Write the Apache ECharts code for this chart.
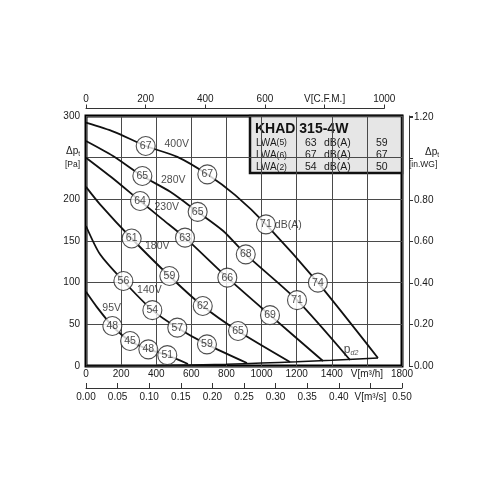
<!DOCTYPE html>
<html><head><meta charset="utf-8">
<script src="https://cdn.jsdelivr.net/npm/echarts@6/dist/echarts.min.js"></script>
<style>html,body{margin:0;padding:0;background:#fff}#c{width:500px;height:500px}</style>
</head><body><div id="c"></div>
<script>
// ---- data ----
const FONT = '"Liberation Sans", Arial, Helvetica, sans-serif';
// fan curves: [flow m3/h, total pressure Pa]
const fan400V = [[0,292],[160,281],[340,264],[520,251],[691,230],[850,205],[1025,170],[1321,100],[1663,9.6]];
const fan280V = [[0,270],[154,252],[321,228],[480,209],[636,185],[782,162],[910,134],[1202,79],[1504,7.2]];
const fan230V = [[0,250],[154,225],[308,198],[436,176],[564,154],[805,106],[1048,61],[1350,6]];
const fan180V = [[0,215],[80,194],[260,153],[475,108],[665,72],[866,42],[1162,4.8]];
const fan140V = [[0,168],[80,134],[213,102],[378,67],[520,46],[689,26],[917,3.6]];
const fan95V  = [[0,89],[61,71],[150,48],[251,30],[355,20],[463,13],[581,2.4]];
// dynamic pressure curve pd2
const pd2Curve = [[0,0],[400,0.6],[800,2.2],[1000,3.5],[1200,5.0],[1400,6.8],[1663,9.6]];
// sound level circles: [flow, pressure, dB(A)]
const dbCircles = [
  [340,264,67],[691,230,67],[1025,170,71],[1321,100,74],
  [321,228,65],[636,185,65],[910,134,68],[1202,79,71],
  [308,198,64],[564,154,63],[805,106,66],[1048,61,69],
  [260,153,61],[475,108,59],[665,72,62],[866,42,65],
  [213,102,56],[378,67,54],[520,46,57],[689,26,59],
  [150,48,48],[251,30,45],[355,20,48],[463,13,51]
];
// text annotations: [text, flow, pressure]
const curveTexts = [['400V',517,266],['280V',497,223],['230V',460,191],['180V',406,144],['140V',361,91],['95V',146,70],['dB(A)',1152,169]];
const pd2Text = [['pd2',1510,19]];
// legend table
const modelName = 'KHAD 315-4W';
const lwaKeys = ['(5)','(6)','(2)'];
const lwaCol1 = [63,67,54];
const lwaCol2 = [59,67,50];
const lwaUnit = 'dB(A)';
// axes
const flowMax = 1800, flowStep = 200;
const cfmMax = 1000, cfmStep = 200;
const m3sMax = 0.5, m3sStep = 0.05;
const paMax = 300, paStep = 50;
const inwgStep = 0.2;
const PA_PER_INWG = 249.089;

// ---- chart ----
const chart = echarts.init(document.getElementById('c'), null, {renderer:'canvas'});
const TXT = '#1a1a1a';
const lbl = (s) => ({fontFamily: FONT, fontSize: s, color: TXT});
const lineSeries = (data) => ({
  type:'line', data, showSymbol:false, smooth:0.25, silent:true, z:2,
  lineStyle:{color:'#111', width:1.8}, xAxisIndex:0, yAxisIndex:0
});
const near = (a,b) => Math.abs(a-b) < 1e-6;
const vmid = {verticalAlign:'middle', textVerticalAlign:'middle'};

const legendChildren = [
  {type:'rect', shape:{x:0,y:0,width:152,height:57}, style:{fill:'#e6e6e6', stroke:'#111', lineWidth:2.5}},
  {type:'text', x:5, y:13, style:Object.assign({text:modelName, font:'bold 14px ' + FONT, fill:'#111'}, vmid)}
];
lwaKeys.forEach((k,i) => {
  const y = 27 + i*12.3;
  legendChildren.push({type:'text', x:6, y, style:Object.assign({text:'{a|LWA}{b|' + k + '}',
    rich:{a:{fontFamily:FONT, fontSize:10, fill:TXT, color:TXT}, b:{fontFamily:FONT, fontSize:8.5, fill:TXT, color:TXT}}}, vmid)});
  legendChildren.push({type:'text', x:55, y, style:Object.assign({text:String(lwaCol1[i]), font:'10.5px ' + FONT, fill:TXT}, vmid)});
  legendChildren.push({type:'text', x:74, y, style:Object.assign({text:lwaUnit, font:'10.5px ' + FONT, fill:TXT}, vmid)});
  legendChildren.push({type:'text', x:126, y, style:Object.assign({text:String(lwaCol2[i]), font:'10.5px ' + FONT, fill:TXT}, vmid)});
});

const option = {
  animation:false,
  backgroundColor:'#fff',
  grid:[
    {left:86, top:116, width:316, height:250, show:true, borderColor:'#000', borderWidth:3, backgroundColor:'rgba(0,0,0,0)'},
    {left:86, top:116, width:316*cfmMax*1.69901/flowMax, height:250, show:false}
  ],
  xAxis:[
    {gridIndex:0, type:'value', min:0, max:flowMax, interval:flowStep, position:'bottom',
     axisLine:{show:false}, axisTick:{show:false},
     axisLabel:Object.assign(lbl(10), {margin:3, formatter:v => v===1600 ? 'V[m³/h]' : String(v)}),
     splitLine:{show:true, lineStyle:{color:'#4a4a4a', width:1}}},
    {gridIndex:0, type:'value', min:0, max:m3sMax, interval:m3sStep, position:'bottom', offset:22,
     axisLine:{show:true, onZero:false, lineStyle:{color:'#333', width:1}},
     axisTick:{show:true, inside:true, length:5, lineStyle:{color:'#333', width:1}},
     axisLabel:Object.assign(lbl(10), {margin:4, formatter:v => near(v,0.45) ? 'V[m³/s]' : v.toFixed(2)}),
     splitLine:{show:false}},
    {gridIndex:1, type:'value', min:0, max:cfmMax, interval:cfmStep, position:'top', offset:7.5,
     axisLine:{show:true, onZero:false, lineStyle:{color:'#333', width:1}},
     axisTick:{show:true, inside:false, length:4, lineStyle:{color:'#333', width:1}},
     axisLabel:Object.assign(lbl(10), {margin:4, formatter:v => v===800 ? 'V[C.F.M.]' : String(v)}),
     splitLine:{show:false}}
  ],
  yAxis:[
    {gridIndex:0, type:'value', min:0, max:paMax, interval:paStep, position:'left',
     axisLine:{show:false}, axisTick:{show:false},
     axisLabel:Object.assign(lbl(10), {margin:6, formatter:v => v===250 ? '{d|Δp}{s|t}\n{b|[Pa]}' : String(v),
       rich:{d:{fontFamily:FONT, fontSize:10, color:TXT, lineHeight:13}, s:{fontFamily:FONT, fontSize:6.5, color:TXT, verticalAlign:'bottom', padding:[4,0,0,0]}, b:{fontFamily:FONT, fontSize:8.5, color:TXT, lineHeight:12}}}),
     splitLine:{show:true, lineStyle:{color:'#4a4a4a', width:1}}},
    {gridIndex:0, type:'value', min:0, max:paMax/PA_PER_INWG, interval:inwgStep, position:'right', offset:7,
     axisLine:{show:true, onZero:false, lineStyle:{color:'#333', width:1}},
     axisTick:{show:true, inside:false, length:4, lineStyle:{color:'#333', width:1}},
     axisLabel:Object.assign(lbl(10), {margin:5, formatter:v => {
        if (Math.abs(v/inwgStep - Math.round(v/inwgStep)) > 1e-6) return '';
        if (near(v,1.0)) return '{d|    Δp}{s|t}\n{b|[in.WG]}';
        return v.toFixed(2);
      },
      rich:{d:{fontFamily:FONT, fontSize:10, color:TXT, lineHeight:13}, s:{fontFamily:FONT, fontSize:6.5, color:TXT, verticalAlign:'bottom', padding:[4,0,0,0]}, b:{fontFamily:FONT, fontSize:8.5, color:TXT, lineHeight:12, padding:[0,0,0,-5]}}}),
     splitLine:{show:false}},
    {gridIndex:1, type:'value', min:0, max:paMax, show:false}
  ],
  graphic:[{type:'group', x:250, y:116, z:100, children:legendChildren}],
  series:[
    lineSeries(fan400V), lineSeries(fan280V), lineSeries(fan230V),
    lineSeries(fan180V), lineSeries(fan140V), lineSeries(fan95V),
    Object.assign(lineSeries(pd2Curve), {lineStyle:{color:'#111', width:1.5}}),
    {type:'scatter', data:dbCircles, xAxisIndex:0, yAxisIndex:0, symbol:'circle', symbolSize:19, z:5, silent:true,
     itemStyle:{color:'#fff', borderColor:'#222', borderWidth:1.1},
     label:Object.assign(lbl(10.5), {show:true, position:'inside', formatter:p => String(p.value[2])})},
    {type:'scatter', data:curveTexts.map(t => ({name:t[0], value:[t[1], t[2]]})), xAxisIndex:0, yAxisIndex:0,
     symbolSize:1, z:6, silent:true, itemStyle:{color:'rgba(0,0,0,0)'},
     label:Object.assign(lbl(10.5), {show:true, position:'inside', formatter:p => p.name})},
    {type:'scatter', data:pd2Text.map(t => ({name:t[0], value:[t[1], t[2]]})), xAxisIndex:0, yAxisIndex:0,
     symbolSize:1, z:6, silent:true, itemStyle:{color:'rgba(0,0,0,0)'},
     label:{show:true, position:'inside', formatter:'{p|p}{s|d2}',
       rich:{p:{fontFamily:FONT, fontSize:12, color:TXT}, s:{fontFamily:FONT, fontSize:7, fontStyle:'italic', color:TXT, verticalAlign:'bottom', padding:[6,0,0,0]}}}}
  ]
};
chart.setOption(option);
</script></body></html>
